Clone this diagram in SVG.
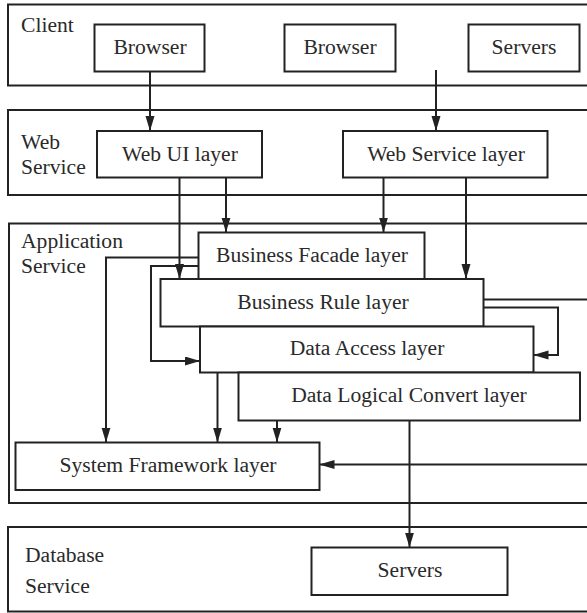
<svg xmlns="http://www.w3.org/2000/svg" width="587" height="613" viewBox="0 0 587 613">
  <style>
    .tier { fill: #ffffff; stroke: #222222; stroke-width: 2; }
    .box { fill: #ffffff; stroke: #222222; stroke-width: 2; }
    .lbl { font-family: "Liberation Serif", "Times New Roman", serif; font-size: 21.6px; fill: #2a2a2a; }
    .mid { text-anchor: middle; }
    .wire { fill: none; stroke: #222222; stroke-width: 2; }
    .arrow { marker-end: url(#head); }
  </style>
  <defs>
    <marker id="head" markerUnits="userSpaceOnUse" markerWidth="15" markerHeight="10" refX="15" refY="4.5" orient="auto">
      <path d="M0,0 L15,4.5 L0,9 z" fill="#222222"/>
    </marker>
  </defs>
  <rect width="587" height="613" fill="#ffffff"/>

  <!-- tier containers (open to the right edge) -->
  <g id="tier-client">
    <rect class="tier" x="8" y="4.5" width="600" height="81"/>
    <text class="lbl" x="21" y="31.5">Client</text>
  </g>
  <g id="tier-web">
    <rect class="tier" x="8" y="110" width="600" height="85"/>
    <text class="lbl" x="21" y="149">Web</text>
    <text class="lbl" x="21" y="174">Service</text>
  </g>
  <g id="tier-app">
    <rect class="tier" x="9" y="223.5" width="600" height="279.5"/>
    <text class="lbl" x="21" y="248">Application</text>
    <text class="lbl" x="21" y="273">Service</text>
  </g>
  <g id="tier-db">
    <rect class="tier" x="8" y="527" width="600" height="84.5"/>
    <text class="lbl" x="25" y="562">Database</text>
    <text class="lbl" x="25" y="592.5">Service</text>
  </g>

  <!-- client nodes -->
  <g id="browser-1">
    <rect class="box" x="94.5" y="24.5" width="110" height="47"/>
    <text class="lbl mid" x="150" y="54">Browser</text>
  </g>
  <g id="browser-2">
    <rect class="box" x="284.5" y="24.5" width="111" height="47"/>
    <text class="lbl mid" x="340" y="54">Browser</text>
  </g>
  <g id="client-servers">
    <rect class="box" x="468.5" y="24.5" width="111" height="47"/>
    <text class="lbl mid" x="524" y="54">Servers</text>
  </g>

  <!-- web service nodes -->
  <g id="web-ui">
    <rect class="box" x="97" y="131" width="165" height="46.5"/>
    <text class="lbl mid" x="180" y="161">Web UI layer</text>
  </g>
  <g id="web-service">
    <rect class="box" x="343" y="131" width="204.5" height="46.5"/>
    <text class="lbl mid" x="446" y="161">Web Service layer</text>
  </g>

  <!-- application layers -->
  <g id="business-facade">
    <rect class="box" x="198.5" y="232.5" width="226" height="46.5"/>
    <text class="lbl mid" x="312" y="262">Business Facade layer</text>
  </g>
  <g id="business-rule">
    <rect class="box" x="160.5" y="279" width="323" height="47.5"/>
    <text class="lbl mid" x="323" y="308.5">Business Rule layer</text>
  </g>
  <g id="data-access">
    <rect class="box" x="200" y="326.5" width="333.5" height="46"/>
    <text class="lbl mid" x="367" y="355">Data Access layer</text>
  </g>
  <g id="data-logical-convert">
    <rect class="box" x="238.5" y="372.5" width="341.5" height="48"/>
    <text class="lbl mid" x="409" y="401.5">Data Logical Convert layer</text>
  </g>
  <g id="system-framework">
    <rect class="box" x="15.5" y="442.5" width="304" height="47.5"/>
    <text class="lbl mid" x="168" y="472">System Framework layer</text>
  </g>

  <!-- database node -->
  <g id="db-servers">
    <rect class="box" x="311.5" y="547.5" width="196" height="47.5"/>
    <text class="lbl mid" x="410" y="576.5">Servers</text>
  </g>

  <!-- connectors -->
  <g id="connectors">
    <line class="wire arrow" x1="150" y1="71.5" x2="150" y2="131"/>
    <line class="wire arrow" x1="436" y1="70" x2="436" y2="131"/>
    <line class="wire arrow" x1="179.5" y1="177.5" x2="179.5" y2="279"/>
    <line class="wire arrow" x1="226" y1="177.5" x2="226" y2="232.5"/>
    <line class="wire arrow" x1="383.5" y1="177.5" x2="383.5" y2="232.5"/>
    <line class="wire arrow" x1="466" y1="177.5" x2="466" y2="279"/>
    <polyline class="wire arrow" points="198.5,257.5 106,257.5 106,442.5"/>
    <polyline class="wire arrow" points="198.5,266 151,266 151,361 200,361"/>
    <polyline class="wire arrow" points="483.5,307.5 558,307.5 558,355 533.5,355"/>
    <line class="wire" x1="483.5" y1="299.5" x2="600" y2="299.5"/>
    <line class="wire arrow" x1="600" y1="464.5" x2="319.5" y2="464.5"/>
    <line class="wire arrow" x1="217.5" y1="372.5" x2="217.5" y2="442.5"/>
    <line class="wire arrow" x1="277" y1="420.5" x2="277" y2="442.5"/>
    <line class="wire arrow" x1="409.5" y1="420.5" x2="409.5" y2="547.5"/>
  </g>
</svg>
